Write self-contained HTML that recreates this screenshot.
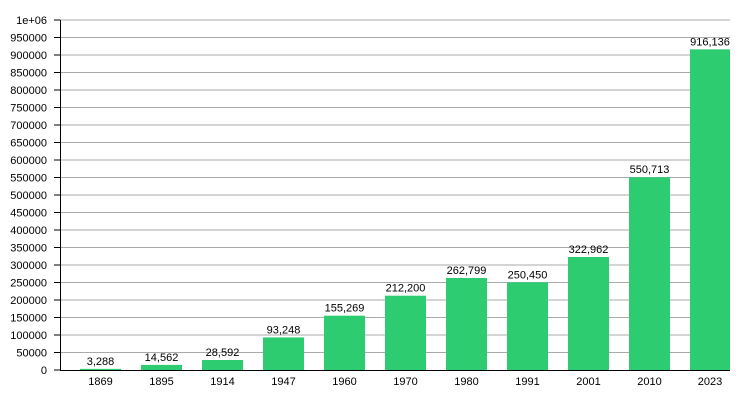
<!DOCTYPE html><html><head><style>body{margin:0;background:#fff}svg{font-family:"Liberation Sans",sans-serif;font-size:11px}</style></head><body>
<svg width="750" height="400" xmlns="http://www.w3.org/2000/svg">
<g stroke="#aaa" stroke-width="1">
<line x1="60" x2="730" y1="352.5" y2="352.5"/><line x1="60" x2="730" y1="335" y2="335"/><line x1="60" x2="730" y1="317.5" y2="317.5"/><line x1="60" x2="730" y1="300" y2="300"/><line x1="60" x2="730" y1="282.5" y2="282.5"/><line x1="60" x2="730" y1="265" y2="265"/><line x1="60" x2="730" y1="247.5" y2="247.5"/><line x1="60" x2="730" y1="230" y2="230"/><line x1="60" x2="730" y1="212.5" y2="212.5"/><line x1="60" x2="730" y1="195" y2="195"/><line x1="60" x2="730" y1="177.5" y2="177.5"/><line x1="60" x2="730" y1="160" y2="160"/><line x1="60" x2="730" y1="142.5" y2="142.5"/><line x1="60" x2="730" y1="125" y2="125"/><line x1="60" x2="730" y1="107.5" y2="107.5"/><line x1="60" x2="730" y1="90" y2="90"/><line x1="60" x2="730" y1="72.5" y2="72.5"/><line x1="60" x2="730" y1="55" y2="55"/><line x1="60" x2="730" y1="37.5" y2="37.5"/><line x1="60" x2="730" y1="20" y2="20"/>
</g>
<g stroke="#000">
<line x1="54" x2="60" y1="370" y2="370"/><line x1="54" x2="60" y1="352.5" y2="352.5"/><line x1="54" x2="60" y1="335" y2="335"/><line x1="54" x2="60" y1="317.5" y2="317.5"/><line x1="54" x2="60" y1="300" y2="300"/><line x1="54" x2="60" y1="282.5" y2="282.5"/><line x1="54" x2="60" y1="265" y2="265"/><line x1="54" x2="60" y1="247.5" y2="247.5"/><line x1="54" x2="60" y1="230" y2="230"/><line x1="54" x2="60" y1="212.5" y2="212.5"/><line x1="54" x2="60" y1="195" y2="195"/><line x1="54" x2="60" y1="177.5" y2="177.5"/><line x1="54" x2="60" y1="160" y2="160"/><line x1="54" x2="60" y1="142.5" y2="142.5"/><line x1="54" x2="60" y1="125" y2="125"/><line x1="54" x2="60" y1="107.5" y2="107.5"/><line x1="54" x2="60" y1="90" y2="90"/><line x1="54" x2="60" y1="72.5" y2="72.5"/><line x1="54" x2="60" y1="55" y2="55"/><line x1="54" x2="60" y1="37.5" y2="37.5"/><line x1="54" x2="60" y1="20" y2="20"/>
</g>
<g text-anchor="end">
<text x="47" y="374">0</text><text x="47" y="356.5">50000</text><text x="47" y="339">100000</text><text x="47" y="321.5">150000</text><text x="47" y="304">200000</text><text x="47" y="286.5">250000</text><text x="47" y="269">300000</text><text x="47" y="251.5">350000</text><text x="47" y="234">400000</text><text x="47" y="216.5">450000</text><text x="47" y="199">500000</text><text x="47" y="181.5">550000</text><text x="47" y="164">600000</text><text x="47" y="146.5">650000</text><text x="47" y="129">700000</text><text x="47" y="111.5">750000</text><text x="47" y="94">800000</text><text x="47" y="76.5">850000</text><text x="47" y="59">900000</text><text x="47" y="41.5">950000</text><text x="47" y="24">1e+06</text>
</g>
<g fill="#2ecc71">
<rect x="80" y="368.85" width="41" height="1.15"/>
<rect x="141" y="364.9" width="41" height="5.1"/>
<rect x="202" y="360" width="41" height="10"/>
<rect x="263" y="337.4" width="41" height="32.6"/>
<rect x="324" y="315.7" width="41" height="54.3"/>
<rect x="385" y="295.7" width="41" height="74.3"/>
<rect x="446" y="278" width="41" height="92"/>
<rect x="507" y="282.3" width="41" height="87.7"/>
<rect x="568" y="257" width="41" height="113"/>
<rect x="629" y="177.25" width="41" height="192.75"/>
<rect x="690" y="49.35" width="40" height="320.65"/>
</g>
<g text-anchor="middle">
<text x="100.5" y="364.8">3,288</text><text x="161.5" y="360.9">14,562</text><text x="222.5" y="356">28,592</text><text x="283.5" y="333.4">93,248</text><text x="344.5" y="311.7">155,269</text><text x="405.5" y="291.7">212,200</text><text x="466.5" y="274">262,799</text><text x="527.5" y="278.3">250,450</text><text x="588.5" y="253">322,962</text><text x="649.5" y="173.2">550,713</text><text x="710" y="45.3">916,136</text>
<text x="100.5" y="385">1869</text><text x="161.5" y="385">1895</text><text x="222.5" y="385">1914</text><text x="283.5" y="385">1947</text><text x="344.5" y="385">1960</text><text x="405.5" y="385">1970</text><text x="466.5" y="385">1980</text><text x="527.5" y="385">1991</text><text x="588.5" y="385">2001</text><text x="649.5" y="385">2010</text><text x="710" y="385">2023</text>
</g>
<line x1="60.5" x2="60.5" y1="20" y2="371" stroke="#000"/>
<line x1="60" x2="730" y1="370.5" y2="370.5" stroke="#000"/>
</svg></body></html>
